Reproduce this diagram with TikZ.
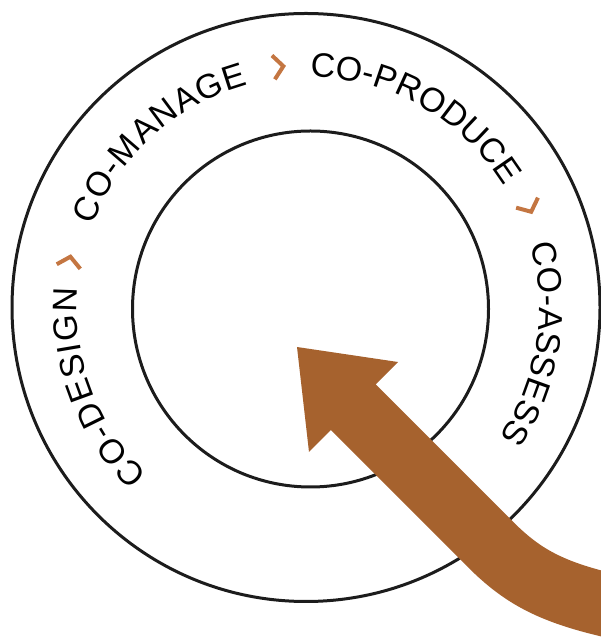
\documentclass[tikz,border=0pt]{standalone}
\usepackage{fontspec}
\setmainfont{Liberation Sans}
\usetikzlibrary{decorations.text}
\definecolor{arrowbrown}{RGB}{166,98,46}
\definecolor{chev}{RGB}{196,118,66}
\definecolor{ring}{RGB}{28,28,28}
\begin{document}
\begin{tikzpicture}[x=1pt,y=1pt,
  ringline/.style={draw=ring, line width=3pt},
  ringtext/.style={decorate, decoration={text along path, text align=fit to path, text={#1}}},
  chevron/.style={draw=chev, line width=4pt, line cap=butt, line join=miter},
  shaft/.style={draw=arrowbrown, line width=64pt, line cap=butt},
  head/.style={fill=arrowbrown}]
\useasboundingbox (0,0) rectangle (601,639);
\coordinate (oc) at (306,331.5);
\coordinate (ic) at (310.5,330);
\coordinate (tc) at (308,331);
\draw[ringline] (oc) circle[radius=294];
\draw[ringline] (ic) circle[radius=178];
\path[ringtext={|\fontsize{34}{34}\selectfont|CO-DESIGN}, shift={(tc)}] (226:231) arc[start angle=226, end angle=175, radius=231];
\path[ringtext={|\fontsize{34}{34}\selectfont|CO-MANAGE}, shift={(tc)}] (159:231) arc[start angle=159, end angle=105, radius=231];
\path[ringtext={|\fontsize{34}{34}\selectfont|CO-PRODUCE}, shift={(tc)}] (89.5:231) arc[start angle=89.5, end angle=32, radius=231];
\path[ringtext={|\fontsize{34}{34}\selectfont|CO-ASSESS}, shift={(tc)}] (16:231) arc[start angle=16, end angle=-34, radius=231];
\foreach \a in {169,97,24.5}{
  \draw[chevron, shift={(tc)}, shift={(\a:243)}, rotate={\a-90}] (-5,12) -- (5,0) -- (-5,-12);
}
\begin{scope}
\clip (0,0) rectangle (601,639);
\coordinate (neck) at (350,235);
\coordinate (bend) at (490,95);
\coordinate (tail) at (625,30);
\draw[shaft] (neck) -- (bend) .. controls (525,60) and (555,45) .. (tail);
\coordinate (tip) at (297,292);
\coordinate (barbA) at (398,277);
\coordinate (barbB) at (309,187);
\fill[head] (tip) -- (barbA) -- (barbB) -- cycle;
\end{scope}
\end{tikzpicture}
\end{document}
